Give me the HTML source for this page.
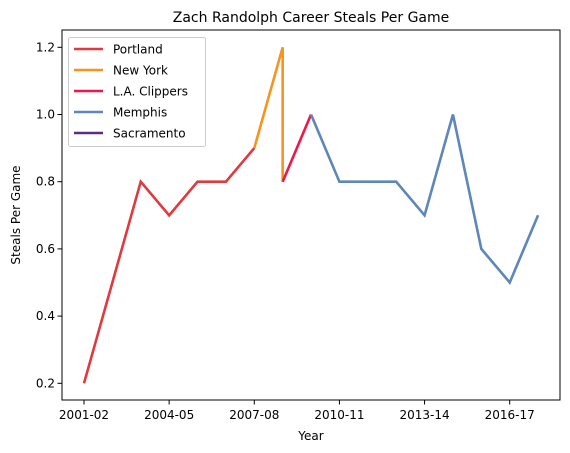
<!DOCTYPE html>
<html><head><meta charset="utf-8"><style>
body{margin:0;background:#fff;}
svg{display:block;font-family:"DejaVu Sans","Liberation Sans",sans-serif;}
</style></head><body>
<svg id="chart" width="570" height="453" xmlns="http://www.w3.org/2000/svg">
<text x="311" y="22" font-size="14" text-anchor="middle">Zach Randolph Career Steals Per Game</text>
<text x="311" y="440" font-size="12" text-anchor="middle">Year</text>
<text transform="translate(20,215) rotate(-90)" font-size="12" text-anchor="middle">Steals Per Game</text>
<g id="marks"></g>
<g id="axes"></g>
<g id="legend"></g>
</svg>
<script>
const seasons=["2001-02","2002-03","2003-04","2004-05","2005-06","2006-07","2007-08","2008-09","2009-10","2010-11","2011-12","2012-13","2013-14","2014-15","2015-16","2016-17","2017-18"];
const teams=["Portland","New York","L.A. Clippers","Memphis","Sacramento"];
const colors=["#e03a3e","#f7941d","#ed174c","#5d86b9","#5a2d81"];
const portlandX=[0,1,2,3,4,5,6];
const portlandY=[0.2,0.5,0.8,0.7,0.8,0.8,0.9];
const nyX=[6,7,7];
const nyY=[0.9,1.2,0.8];
const clippersX=[7,8];
const clippersY=[0.8,1.0];
const memphisX=[8,9,10,11,12,13,14,15,16];
const memphisY=[1.0,0.8,0.8,0.8,0.7,1.0,0.6,0.5,0.7];
const sacX=[];const sacY=[];
const yTicks=[0.2,0.4,0.6,0.8,1.0,1.2];
const xTickIdx=[0,3,6,9,12,15];

const L=62,R=560,T=30,B=400;
const sx=i=>84+i*28.38;
const sy=v=>383.3-(v-0.2)*336;
const NS="http://www.w3.org/2000/svg";
function mk(tag,attrs,parent){const e=document.createElementNS(NS,tag);for(const k in attrs)e.setAttribute(k,attrs[k]);parent.appendChild(e);return e;}
const marks=document.getElementById('marks'),axes=document.getElementById('axes'),leg=document.getElementById('legend');
const series=[[portlandX,portlandY],[nyX,nyY],[clippersX,clippersY],[memphisX,memphisY],[sacX,sacY]];
series.forEach((s,k)=>{
  if(!s[0].length)return;
  const p=mk('polyline',{points:s[0].map((x,i)=>sx(x)+','+sy(s[1][i])).join(' '),fill:'none',stroke:colors[k],'stroke-width':2.6},marks);
  
  
});
const fr=mk('rect',{x:L,y:T,width:R-L,height:B-T,fill:'none',stroke:'#000','stroke-width':1},axes);


yTicks.forEach(v=>{
  const y=sy(v);
  mk('line',{x1:L-4.5,x2:L,y1:y,y2:y,stroke:'#000'},axes);
  const t=mk('text',{x:L-7,y:y+4,'font-size':12,'text-anchor':'end'},axes);t.textContent=v.toFixed(1);
  
  
});
xTickIdx.forEach(i=>{
  const x=sx(i);
  mk('line',{x1:x,x2:x,y1:B,y2:B+4.5,stroke:'#000'},axes);
  const t=mk('text',{x:x,y:B+19,'font-size':12,'text-anchor':'middle'},axes);t.textContent=seasons[i];
  
  
});
const lb=mk('rect',{x:68.5,y:37.5,width:137,height:109,rx:2,fill:'#fff','fill-opacity':0.8,stroke:'#ccc'},leg);


teams.forEach((n,k)=>{
  const y=49+k*21;
  mk('line',{x1:74,x2:103,y1:y,y2:y,stroke:colors[k],'stroke-width':2.6},leg);
  const t=mk('text',{x:113,y:y+4.5,'font-size':12},leg);t.textContent=n;
  
  
});
</script>
</body></html>
